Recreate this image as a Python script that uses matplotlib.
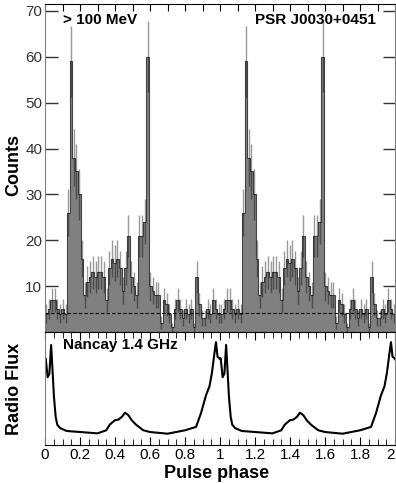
import matplotlib
matplotlib.use("Agg")
import matplotlib.pyplot as plt
from matplotlib.ticker import MultipleLocator
import numpy as np

plt.rcParams['font.family'] = ['Liberation Sans', 'DejaVu Sans']

# gamma-ray counts, 64 bins per rotation (shown twice)
counts = [4, 5, 7, 7, 5, 4, 5, 4, 26, 59, 38, 35, 30, 16, 8, 11,
          12, 13, 12, 13, 13, 12, 7, 14, 16, 15, 16, 14, 9, 14, 21, 12,
          10, 8, 21, 21, 24, 60, 10, 9, 8, 8, 2, 7, 6, 4, 1, 5,
          7, 5, 3, 5, 4, 5, 1, 12, 6, 3, 3, 5, 4, 7, 5, 4]
background = 4.1

# radio profile (Nancay 1.4 GHz), arbitrary units, one rotation
radio_phase = [0.0, 0.004, 0.015, 0.025, 0.035, 0.042, 0.051, 0.061, 0.07, 0.086,
               0.124, 0.2, 0.3, 0.35, 0.37, 0.4, 0.42, 0.44, 0.457, 0.476,
               0.495, 0.52, 0.562, 0.6, 0.7, 0.8, 0.863, 0.891, 0.92, 0.94,
               0.954, 0.968, 0.977, 0.986, 0.996, 1.0]
radio_flux = [0.76, 0.767, 0.60, 0.63, 0.885, 0.69, 0.43, 0.25, 0.18, 0.15,
              0.124, 0.115, 0.103, 0.13, 0.18, 0.22, 0.225, 0.25, 0.286, 0.264,
              0.22, 0.18, 0.13, 0.115, 0.10, 0.13, 0.16, 0.28, 0.44, 0.52,
              0.64, 0.81, 0.91, 0.78, 0.77, 0.76]

nb = len(counts)
c2 = np.array(counts * 2, dtype=float)
edges = np.arange(2 * nb + 1) / nb
centers = (edges[:-1] + edges[1:]) / 2

fig = plt.figure(figsize=(3.96, 4.83), dpi=100)
L, R = 45 / 396, 395 / 396
ax1 = fig.add_axes([L, 1 - 332 / 483, R - L, (332 - 4) / 483])
ax2 = fig.add_axes([L, 1 - 445 / 483, R - L, (445 - 332) / 483])

# top panel: histogram
ax1.stairs(c2, edges, fill=True, color='#808080')
ax1.stairs(c2, edges, color='#444444', lw=0.8)
ax1.errorbar(centers, c2, yerr=np.sqrt(c2), fmt='none', ecolor='black',
             alpha=0.4, elinewidth=1.0)
ax1.axhline(background, color='black', lw=0.8, ls=(0, (3, 2)))
ax1.set_xlim(0, 2)
ax1.set_ylim(0, 71.5)
ax1.set_yticks([10, 20, 30, 40, 50, 60, 70])
ax1.xaxis.set_major_locator(MultipleLocator(0.1))
ax1.tick_params(axis='y', direction='in', length=9, width=1, labelsize=11,
                pad=2, right=True, colors='#333333')
ax1.tick_params(axis='x', direction='in', length=5, top=True, bottom=False,
                labelbottom=False)
ax1.text(0.051, 0.951, '> 100 MeV', transform=ax1.transAxes, fontsize=11,
         fontweight='bold', va='center')
ax1.text(0.946, 0.951, 'PSR J0030+0451', transform=ax1.transAxes, fontsize=11,
         fontweight='bold', va='center', ha='right')

# bottom panel: radio profile
rp = np.array(radio_phase)
rf = np.array(radio_flux)
ax2.plot(np.concatenate([rp, rp + 1]), np.concatenate([rf, rf]),
         color='black', lw=1.5)
ax2.set_xlim(0, 2)
ax2.set_ylim(0, 1)
ax2.set_yticks([])
ax2.xaxis.set_minor_locator(MultipleLocator(0.05))
ax2.set_xticks(np.arange(0, 2.01, 0.2))
ax2.set_xticklabels(['0', '0.2', '0.4', '0.6', '0.8', '1', '1.2', '1.4', '1.6', '1.8', '2'])
ax2.get_xticklabels()[-1].set_ha('right')
ax2.tick_params(axis='x', which='major', direction='in', length=6, top=True,
                labelsize=11, pad=2)
ax2.tick_params(axis='x', which='minor', direction='in', length=4, top=True)
ax2.text(0.051, 0.885, 'Nancay 1.4 GHz', transform=ax2.transAxes, fontsize=11,
         fontweight='bold', va='center')

for ax in (ax1, ax2):
    ax.spines['left'].set_color('#808080')
    ax.spines['right'].set_color('#808080')

fig.text(14 / 396, 1 - 165 / 483, 'Counts', rotation=90, fontsize=13,
         fontweight='bold', ha='center', va='center')
fig.text(14.5 / 396, 1 - 389 / 483, 'Radio Flux', rotation=90, fontsize=13,
         fontweight='bold', ha='center', va='center')
fig.text(217 / 396, 1 - 473 / 483, 'Pulse phase', fontsize=13,
         fontweight='bold', ha='center', va='center')

fig.savefig('out.png', dpi=100)
